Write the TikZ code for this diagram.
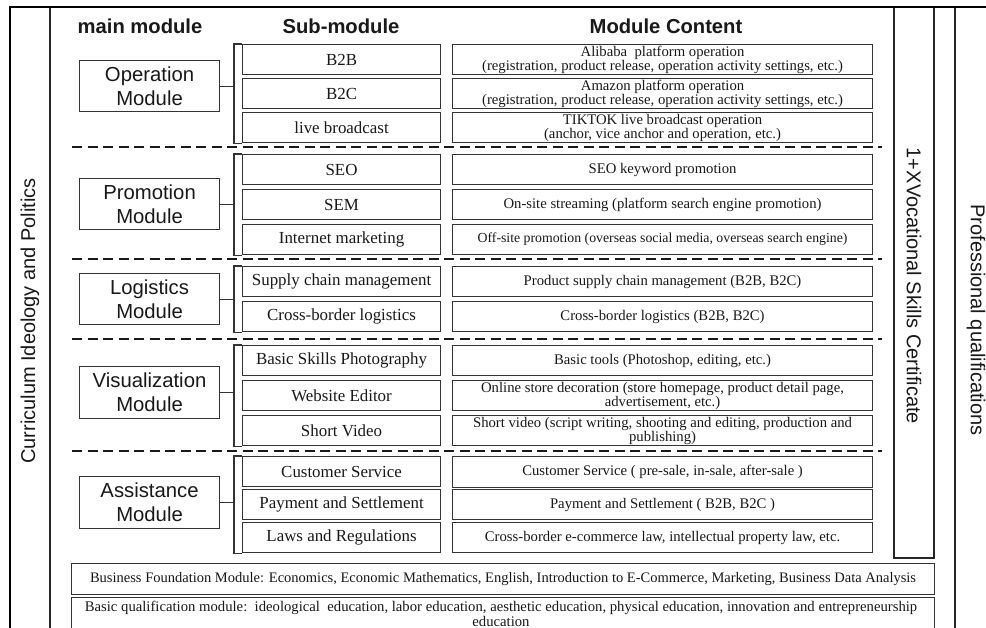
\documentclass[tikz,border=0pt]{standalone}
\usepackage{fontspec}
\setmainfont{Liberation Serif}
\newfontfamily\sansf{Liberation Sans}
\tikzset{
  bx/.style={draw=black!80, line width=1.1pt, inner sep=0pt, align=center, text=black!90},
  mainbox/.style={bx, anchor=north west, minimum width=140pt, font=\sansf\fontsize{20.3}{24}\selectfont},
  subbox/.style={bx, anchor=north west, minimum width=198pt, minimum height=30pt, font=\fontsize{16.9}{18}\selectfont},
  conbox/.style={bx, anchor=north west, minimum width=420pt, minimum height=30pt, font=\fontsize{14.7}{14}\selectfont},
  head/.style={font=\sansf\bfseries\fontsize{20.2}{24}\selectfont, text=black!90},
  vtext/.style={font=\sansf\fontsize{20}{22}\selectfont, text=black!90},
  frame/.style={draw=black!85, line width=1.1pt},
  thickframe/.style={draw=black, line width=2.6pt},
  sepline/.style={draw=black!90, line width=2.6pt, dash pattern=on 10pt off 5.5pt},
  link/.style={draw=black!80, line width=1.1pt},
  wide/.style={bx, anchor=north west, minimum width=863pt, font=\fontsize{14.5}{16}\selectfont}
}
\newcommand\subbx[3]{\node[subbox] (#1) at (242,#2) {#3};}
\newcommand\conbx[4]{\node[conbox, minimum height=#4] (#1) at (452,#2) {#3};}
\begin{document}
\begin{tikzpicture}[x=1pt,y=-1pt]
\useasboundingbox (0,0) rectangle (986,627);
\fill[white] (0,0) rectangle (986,627);

% frame
\draw[frame] (50,7) -- (50,640);
\draw[frame] (955,7) -- (955,640);
\draw[frame] (894,7) rectangle (934,558);
\draw[thickframe] (10,640) -- (10,7) -- (986,7);

% vertical labels
\node[vtext, rotate=90] (curr) at (30,321) {Curriculum Ideology and Politics};
\node[vtext, rotate=-90] (onex) at (914,286) {1+XVocational Skills Certificate};
\node[vtext, rotate=-90] (prof) at (976,320) {Professional qualifications};

% headers
\node[head] (h1) at (140,26) {main module};
\node[head] (h2) at (341,26) {Sub-module};
\node[head] (h3) at (666,26) {Module Content};

% main modules
\node[mainbox, minimum height=51pt] (op) at (79,60) {Operation\\Module};
\node[mainbox, minimum height=51pt] (pr) at (79,178) {Promotion\\Module};
\node[mainbox, minimum height=51pt] (lo) at (79,273) {Logistics\\Module};
\node[mainbox, minimum height=52pt] (vi) at (79,366) {Visualization\\Module};
\node[mainbox, minimum height=52pt] (as) at (79,476) {Assistance\\Module};

% sub modules
\subbx{sa}{44}{B2B}
\subbx{sb}{78}{B2C}
\subbx{sc}{112}{live broadcast}
\subbx{sd}{154}{SEO}
\subbx{se}{189}{SEM}
\subbx{sf}{224}{Internet marketing}
\subbx{sg}{266}{Supply chain management}
\subbx{sh}{301}{Cross-border logistics}
\subbx{si}{345}{Basic Skills Photography}
\subbx{sj}{380}{Website Editor}
\subbx{sk}{415}{Short Video}
\subbx{sl}{456}{Customer Service}
\subbx{sm}{489}{Payment and Settlement}
\subbx{sn}{522}{Laws and Regulations}

% content
\conbx{ca}{44}{Alibaba\ \ platform operation\\(registration, product release, operation activity settings, etc.)}{30pt}
\conbx{cb}{78}{Amazon platform operation\\(registration, product release, operation activity settings, etc.)}{30pt}
\conbx{cc}{112}{TIKTOK live broadcast operation\\(anchor, vice anchor and operation, etc.)}{30pt}
\conbx{cd}{154}{SEO keyword promotion}{30pt}
\conbx{ce}{189}{On-site streaming (platform search engine promotion)}{30pt}
\node[conbox, minimum height=30pt, font=\fontsize{13.8}{14}\selectfont] (cf) at (452,224) {Off-site promotion (overseas social media, overseas search engine)};
\conbx{cg}{266}{Product supply chain management (B2B, B2C)}{30pt}
\conbx{ch}{301}{Cross-border logistics (B2B, B2C)}{30pt}
\conbx{ci}{345}{Basic tools (Photoshop, editing, etc.)}{30pt}
\conbx{cj}{380}{Online store decoration (store homepage, product detail page,\\advertisement, etc.)}{30pt}
\conbx{ck}{415}{Short video (script writing, shooting and editing, production and\\publishing)}{30pt}
\conbx{cl}{456}{Customer Service ( pre-sale, in-sale, after-sale )}{31pt}
\conbx{cm}{489}{Payment and Settlement ( B2B, B2C )}{30pt}
\conbx{cn}{522}{Cross-border e-commerce law, intellectual property law, etc.}{30pt}

% brackets and links
\coordinate (brx) at (234,0);
\draw[link] (sa.north west) -- (sa.north west -| brx) -- (sc.south west -| brx) -- (sc.south west);
\draw[link] (op.east) -- (op.east -| brx);
\draw[link] (sd.north west) -- (sd.north west -| brx) -- (sf.south west -| brx) -- (sf.south west);
\draw[link] (pr.east) -- (pr.east -| brx);
\draw[link] (sg.north west) -- (sg.north west -| brx) -- (sh.south west -| brx) -- (sh.south west);
\draw[link] (lo.east) -- (lo.east -| brx);
\draw[link] (si.north west) -- (si.north west -| brx) -- (sk.south west -| brx) -- (sk.south west);
\draw[link] (vi.east) -- (vi.east -| brx);
\draw[link] (sl.north west) -- (sl.north west -| brx) -- (sn.south west -| brx) -- (sn.south west);
\draw[link] (as.east) -- (as.east -| brx);

% separators
\draw[sepline] (72,147) -- (882,147);
\draw[sepline] (72,259) -- (882,259);
\draw[sepline] (72,339) -- (882,339);
\draw[sepline] (72,451) -- (882,451);

% bottom modules
\node[wide, minimum height=31pt] (bf) at (71,563) {Business Foundation Module: Economics, Economic Mathematics, English, Introduction to E-Commerce, Marketing, Business Data Analysis};
\node[wide, minimum height=44pt, anchor=north west] (bq) at (71,597) {};
\node[font=\fontsize{14.7}{15}\selectfont, align=center, anchor=north, text=black!90] (bqt) at (501,598) {Basic qualification module:\ \ ideological\ \ education, labor education, aesthetic education, physical education, innovation and entrepreneurship\\education};
\end{tikzpicture}
\end{document}
